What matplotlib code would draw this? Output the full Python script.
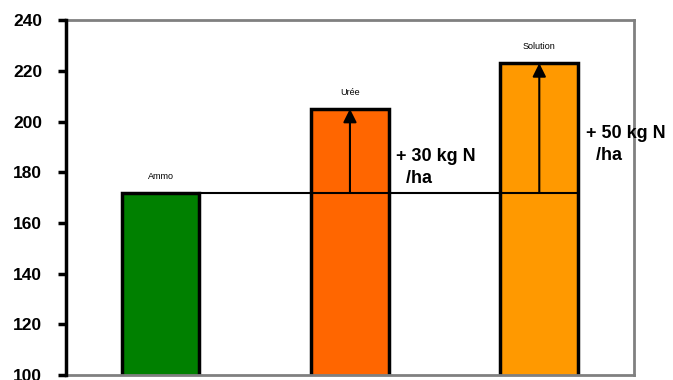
import numpy as np
import matplotlib.pyplot as plt

plt.rcParams['font.family'] = ['Liberation Sans', 'DejaVu Sans']

products = ['Ammo', 'Urée', 'Solution']
yields = [172, 205, 223]
colors = ['#008000', '#FF6600', '#FF9900']
gains = ['+ 30 kg N\n  /ha', '+ 50 kg N\n  /ha']

fig = plt.figure(figsize=(6.73, 3.8), dpi=100)
ax = fig.add_axes([0.098, 0.013, 0.844, 0.934])

x = np.arange(len(products))
ax.bar(x, yields, width=0.41, bottom=0, color=colors, edgecolor='black',
       linewidth=2.5, zorder=2)
ax.set_xlim(-0.5, len(products) - 0.5)
ax.set_ylim(100, 240)

# reference level (Ammo) carried over the other bars
base = yields[0]
ax.plot([x[0] + 0.205, x[-1] + 0.205], [base, base], color='black', lw=1.5, zorder=3)

for i in range(1, len(products)):
    ax.annotate('', xy=(x[i], yields[i]), xytext=(x[i], base),
                arrowprops=dict(arrowstyle='-|>,head_length=0.8,head_width=0.4',
                                color='black', lw=1.5, shrinkA=0, shrinkB=0),
                zorder=4)
    ax.text(x[i] + 0.245, (yields[i] + base) / 2 - 6.5, gains[i - 1],
            fontsize=13, fontweight='bold', va='center', ha='left', linespacing=1.4)

for i, name in enumerate(products):
    ax.text(x[i], yields[i] + 6.5, name, fontsize=6.5, ha='center', va='center')

ax.set_yticks(np.arange(100, 241, 20))
ax.set_xticks([])
for lab in ax.get_yticklabels():
    lab.set_fontweight('bold')
    lab.set_fontsize(12.5)
ax.tick_params(axis='y', direction='out', length=6, width=2.5, color='black', pad=11)

for s in ['top', 'right', 'bottom']:
    ax.spines[s].set_color('#808080')
    ax.spines[s].set_linewidth(2)
ax.spines['left'].set_color('black')
ax.spines['left'].set_linewidth(2.5)
ax.spines['left'].set_zorder(5)

fig.savefig('out.png', dpi=100)
